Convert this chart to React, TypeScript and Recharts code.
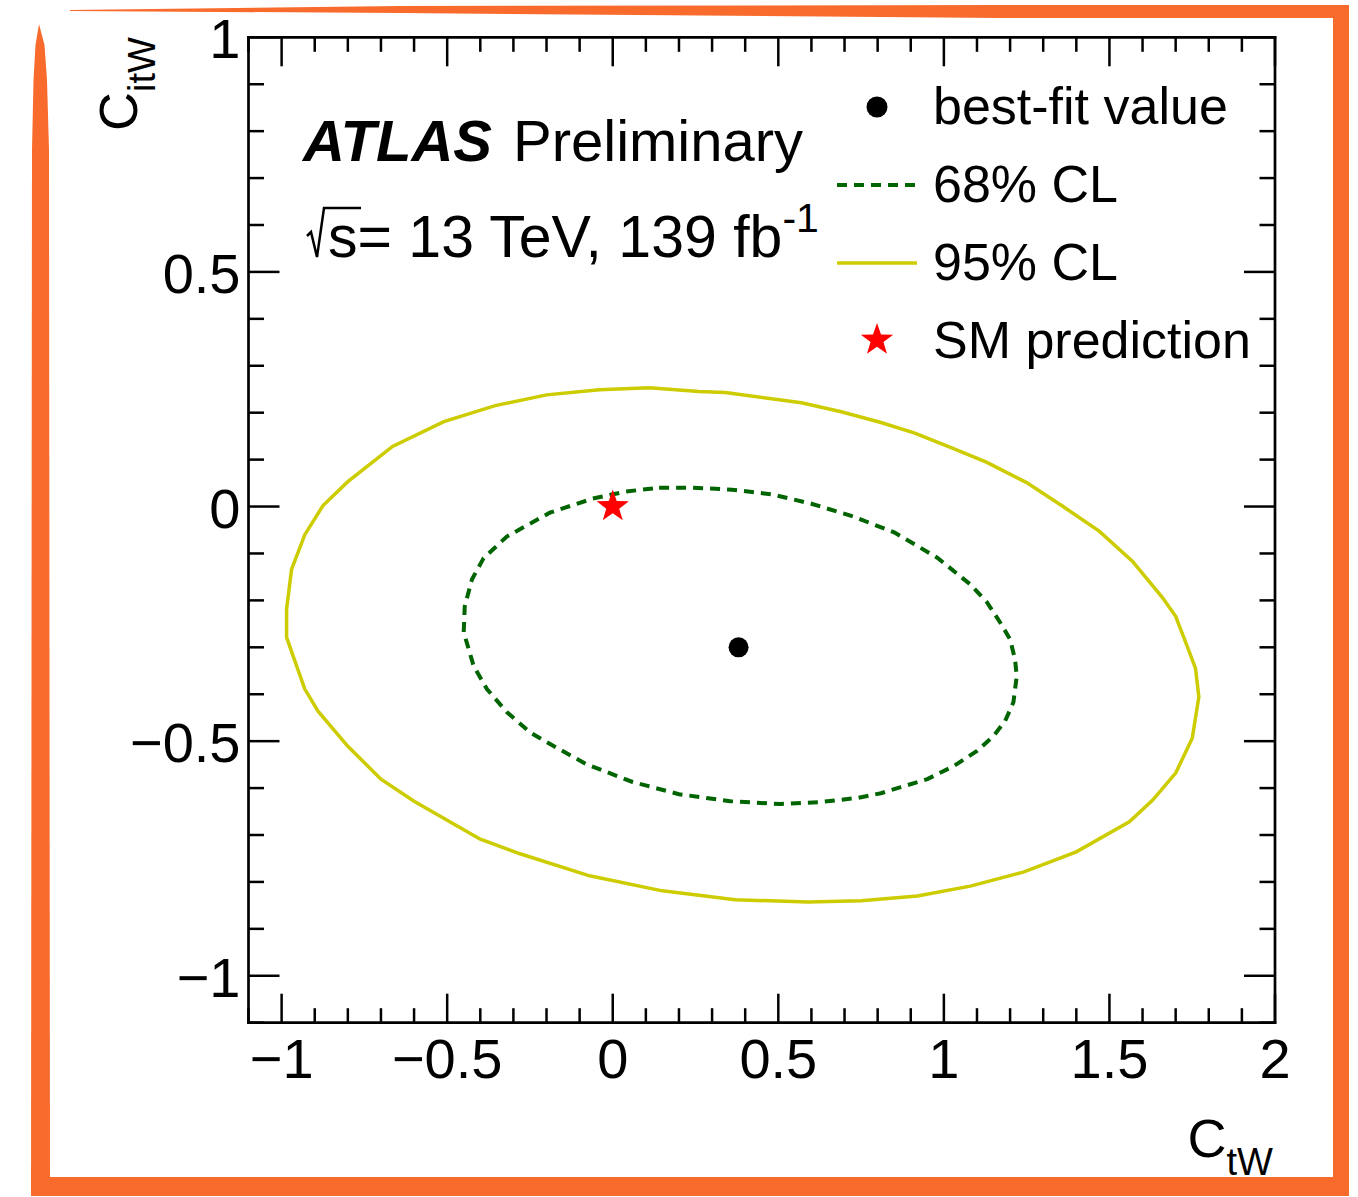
import React from 'react';
import { ScatterChart, Scatter, XAxis, YAxis, Legend } from 'recharts';

const W = 1358;
const H = 1197;
const FONT = '"Liberation Sans", Arial, Helvetica, sans-serif';

// Axis ranges and labelled (major) tick values
const xDomain = [-1.1, 2];
const yDomain = [-1.1, 1];
const xMajorTicks = [-1, -0.5, 0, 0.5, 1, 1.5, 2];
const yMajorTicks = [-1, -0.5, 0, 0.5, 1];

// Best-fit point and Standard Model expectation (C_tW, C_itW)
const bestFitX = [0.38];
const bestFitY = [-0.3];
const smX = [0];
const smY = [0];

// 68% CL contour
const contour68X = [0.14, 0.24, 0.36, 0.48, 0.6, 0.725, 0.85, 0.98, 1.08, 1.13, 1.17, 1.2, 1.215, 1.22, 1.21, 1.185, 1.15, 1.1, 1.03, 0.95, 0.87, 0.81, 0.74, 0.625, 0.505, 0.355, 0.2, 0.06, -0.08, -0.2, -0.25, -0.32, -0.38, -0.42, -0.45, -0.447, -0.425, -0.39, -0.32, -0.19, -0.06, 0.04, 0.14];
const contour68Y = [0.04, 0.04, 0.036, 0.026, 0.006, -0.021, -0.055, -0.109, -0.166, -0.204, -0.247, -0.283, -0.326, -0.362, -0.417, -0.457, -0.489, -0.521, -0.553, -0.581, -0.598, -0.611, -0.621, -0.63, -0.634, -0.628, -0.613, -0.587, -0.549, -0.502, -0.481, -0.438, -0.389, -0.34, -0.268, -0.213, -0.155, -0.11, -0.064, -0.013, 0.017, 0.032, 0.04];

// 95% CL contour
const contour95X = [0.11, 0.26, 0.34, 0.57, 0.69, 0.81, 0.91, 1.02, 1.13, 1.25, 1.36, 1.47, 1.57, 1.66, 1.7, 1.73, 1.76, 1.77, 1.75, 1.7, 1.63, 1.56, 1.4, 1.24, 1.08, 0.92, 0.75, 0.59, 0.37, 0.15, -0.07, -0.28, -0.4, -0.6, -0.7, -0.8, -0.89, -0.93, -0.985, -0.985, -0.97, -0.93, -0.875, -0.8, -0.665, -0.51, -0.355, -0.2, -0.04, 0.11];
const contour95Y = [0.253, 0.245, 0.243, 0.221, 0.202, 0.179, 0.157, 0.126, 0.094, 0.051, 0, -0.053, -0.117, -0.194, -0.234, -0.289, -0.345, -0.406, -0.494, -0.568, -0.626, -0.672, -0.736, -0.779, -0.809, -0.83, -0.84, -0.843, -0.838, -0.819, -0.787, -0.74, -0.709, -0.628, -0.581, -0.511, -0.436, -0.389, -0.279, -0.219, -0.134, -0.06, 0.002, 0.053, 0.128, 0.181, 0.215, 0.238, 0.249, 0.253];

const legendLabels = ['best-fit value', '68% CL', '95% CL', 'SM prediction'];

const COLOR_68 = '#006400';
const COLOR_95 = '#cccc00';
const COLOR_SM = '#ff0000';
const ORANGE = '#f96b2c';

const zip = (xs: number[], ys: number[]) => xs.map((x, i) => ({ x, y: ys[i] }));

const bestFit = zip(bestFitX, bestFitY);
const smPoint = zip(smX, smY);
const contour68 = zip(contour68X, contour68Y);
const contour95 = zip(contour95X, contour95Y);

// every 0.1 step between the axis limits (minor ticks), majors included
const tickRange = (lo: number, hi: number) =>
  Array.from({ length: Math.round((hi - lo) * 10) + 1 }, (_, i) => (Math.round(lo * 10) + i) / 10);
const xTicks = tickRange(xDomain[0], xDomain[1]);
const yTicks = tickRange(yDomain[0], yDomain[1]);

const isMajor = (v: number, majors: number[]) => majors.some((m) => Math.abs(m - v) < 1e-6);
const fmt = (v: number) => (v < 0 ? '\u2212' : '') + String(Math.abs(v));

const TICK_W = 2.5;
const X_MAJOR = 29;
const X_MINOR = 14.5;
const Y_MAJOR = 31;
const Y_MINOR = 15.5;
const TICK_FONT = 56;

const BottomTick = (p: any) => {
  const major = isMajor(p.payload.value, xMajorTicks);
  return (
    <g>
      <line x1={p.x} y1={p.y} x2={p.x} y2={p.y - (major ? X_MAJOR : X_MINOR)} stroke="#000" strokeWidth={TICK_W} />
      {major && (
        <text x={p.x} y={p.y + 55.5} textAnchor="middle" fontSize={TICK_FONT} fontFamily={FONT} fill="#000">
          {fmt(p.payload.value)}
        </text>
      )}
    </g>
  );
};

const TopTick = (p: any) => {
  const major = isMajor(p.payload.value, xMajorTicks);
  return <line x1={p.x} y1={p.y} x2={p.x} y2={p.y + (major ? X_MAJOR : X_MINOR)} stroke="#000" strokeWidth={TICK_W} />;
};

const LeftTick = (p: any) => {
  const major = isMajor(p.payload.value, yMajorTicks);
  return (
    <g>
      <line x1={p.x} y1={p.y} x2={p.x + (major ? Y_MAJOR : Y_MINOR)} y2={p.y} stroke="#000" strokeWidth={TICK_W} />
      {major && (
        <text x={p.x - 8} y={p.y + 21} textAnchor="end" fontSize={TICK_FONT} fontFamily={FONT} fill="#000">
          {fmt(p.payload.value)}
        </text>
      )}
    </g>
  );
};

const RightTick = (p: any) => {
  const major = isMajor(p.payload.value, yMajorTicks);
  return <line x1={p.x} y1={p.y} x2={p.x - (major ? Y_MAJOR : Y_MINOR)} y2={p.y} stroke="#000" strokeWidth={TICK_W} />;
};

const starPath = (cx: number, cy: number, ro: number, ri: number) => {
  const pts: string[] = [];
  for (let i = 0; i < 10; i++) {
    const r = i % 2 === 0 ? ro : ri;
    const a = -Math.PI / 2 + (i * Math.PI) / 5;
    pts.push(`${(cx + r * Math.cos(a)).toFixed(2)},${(cy + r * Math.sin(a)).toFixed(2)}`);
  }
  return `M${pts.join('L')}Z`;
};

const NoMarker = () => <g />;
const DotMarker = (p: any) => <circle cx={p.cx} cy={p.cy} r={10} fill="#000" />;
const StarMarker = (p: any) => <path d={starPath(p.cx, p.cy, 17, 6.8)} fill={COLOR_SM} />;

const axisLine = { stroke: '#000', strokeWidth: 2.7, strokeLinecap: 'square' as const };

const LEG_SYM_X = 877;
const LEG_TEXT_X = 933;
const LEG_ROW0 = 107;
const LEG_STEP = 78;

const renderLegend = () => (
  <svg width={W} height={H} style={{ display: 'block' }}>
    {legendLabels.map((label, i) => {
      const cy = LEG_ROW0 + i * LEG_STEP;
      let sym: React.ReactNode = null;
      if (i === 0) sym = <circle cx={LEG_SYM_X} cy={cy} r={10.5} fill="#000" />;
      if (i === 1)
        sym = <line x1={837} y1={cy} x2={915} y2={cy} stroke={COLOR_68} strokeWidth={4} strokeDasharray="10 7" />;
      if (i === 2) sym = <line x1={837} y1={cy} x2={917} y2={cy} stroke={COLOR_95} strokeWidth={3.5} />;
      if (i === 3) sym = <path d={starPath(LEG_SYM_X, cy - 1, 17, 6.8)} fill={COLOR_SM} />;
      return (
        <g key={label}>
          {sym}
          <text x={LEG_TEXT_X} y={cy + 17} fontSize={52} fontFamily={FONT} fill="#000">
            {label}
          </text>
        </g>
      );
    })}
  </svg>
);

const Decorations = () => (
  <svg width={W} height={H} style={{ position: 'absolute', left: 0, top: 0, pointerEvents: 'none' }}>
    {/* hand-drawn style orange frame */}
    <path d="M70 10 L400 6 L1000 5 L1349 5 L1349 18 L1000 18 L400 13 L70 11 Z" fill={ORANGE} />
    <rect x={1333} y={5} width={16} height={1191} fill={ORANGE} />
    <rect x={31} y={1177} width={1318} height={19} fill={ORANGE} />
    <path d="M39 24 L35.5 45 L33.5 80 L32 150 L31 1196 L50 1196 L49 150 L47 80 L44.5 45 Z" fill={ORANGE} />

    {/* experiment label */}
    <text x={303} y={161} fontSize={58} fontFamily={FONT} fill="#000">
      <tspan fontWeight="bold" fontStyle="italic">ATLAS</tspan>
    </text>
    <text x={513} y={161} fontSize={58} fontFamily={FONT} fill="#000">
      Preliminary
    </text>
    <polyline points="307,236 311,232 317,257 324,208 361,208" fill="none" stroke="#000" strokeWidth={2.5} strokeLinejoin="miter" />
    <text x={328} y={257} fontSize={59} fontFamily={FONT} fill="#000">
      s= 13 TeV, 139 fb<tspan fontSize={41} dy={-25}>-1</tspan>
    </text>

    {/* axis titles */}
    <text x={1273} y={1157} textAnchor="end" fontSize={54} fontFamily={FONT} fill="#000">
      C<tspan fontSize={38} dy={18}>tW</tspan>
    </text>
    <text
      x={0}
      y={0}
      transform="translate(137,37) rotate(-90)"
      textAnchor="end"
      fontSize={54}
      fontFamily={FONT}
      fill="#000"
    >
      C<tspan fontSize={38} dy={18}>itW</tspan>
    </text>
  </svg>
);

export default function App() {
  return (
    <div style={{ position: 'absolute', left: 0, top: 0, width: W, height: H, background: '#fff' }}>
      <ScatterChart width={W} height={H} margin={{ top: 27.3, right: 73, bottom: 74.3, left: 98.5 }}>
        <XAxis
          xAxisId="bottom"
          orientation="bottom"
          type="number"
          dataKey="x"
          domain={xDomain}
          allowDataOverflow
          ticks={xTicks}
          interval={0}
          height={100}
          tickSize={0}
          tickMargin={0}
          tickLine={false}
          tick={BottomTick}
          axisLine={axisLine}
        />
        <XAxis
          xAxisId="top"
          orientation="top"
          type="number"
          dataKey="x"
          domain={xDomain}
          allowDataOverflow
          ticks={xTicks}
          interval={0}
          height={10}
          tickSize={0}
          tickMargin={0}
          tickLine={false}
          tick={TopTick}
          axisLine={axisLine}
        />
        <YAxis
          yAxisId="left"
          orientation="left"
          type="number"
          dataKey="y"
          domain={yDomain}
          allowDataOverflow
          ticks={yTicks}
          interval={0}
          width={150}
          tickSize={0}
          tickMargin={0}
          tickLine={false}
          tick={LeftTick}
          axisLine={axisLine}
        />
        <YAxis
          yAxisId="right"
          orientation="right"
          type="number"
          dataKey="y"
          domain={yDomain}
          allowDataOverflow
          ticks={yTicks}
          interval={0}
          width={10}
          tickSize={0}
          tickMargin={0}
          tickLine={false}
          tick={RightTick}
          axisLine={axisLine}
        />
        <Scatter
          name="95% CL"
          data={contour95}
          xAxisId="bottom"
          yAxisId="left"
          line={{ stroke: COLOR_95, strokeWidth: 3.5 }}
          shape={NoMarker}
          isAnimationActive={false}
        />
        <Scatter
          name="68% CL"
          data={contour68}
          xAxisId="bottom"
          yAxisId="left"
          line={{ stroke: COLOR_68, strokeWidth: 4, strokeDasharray: '10 7' }}
          shape={NoMarker}
          isAnimationActive={false}
        />
        <Scatter name="best-fit value" data={bestFit} xAxisId="bottom" yAxisId="left" shape={DotMarker} isAnimationActive={false} />
        <Scatter name="SM prediction" data={smPoint} xAxisId="bottom" yAxisId="left" shape={StarMarker} isAnimationActive={false} />
        <Scatter data={smPoint} xAxisId="top" yAxisId="right" shape={NoMarker} isAnimationActive={false} legendType="none" />
        <Legend
          layout="vertical"
          align="center"
          verticalAlign="middle"
          content={renderLegend}
          wrapperStyle={{ left: 0, top: 0, width: W, height: H, pointerEvents: 'none' }}
        />
      </ScatterChart>
      <Decorations />
    </div>
  );
}
